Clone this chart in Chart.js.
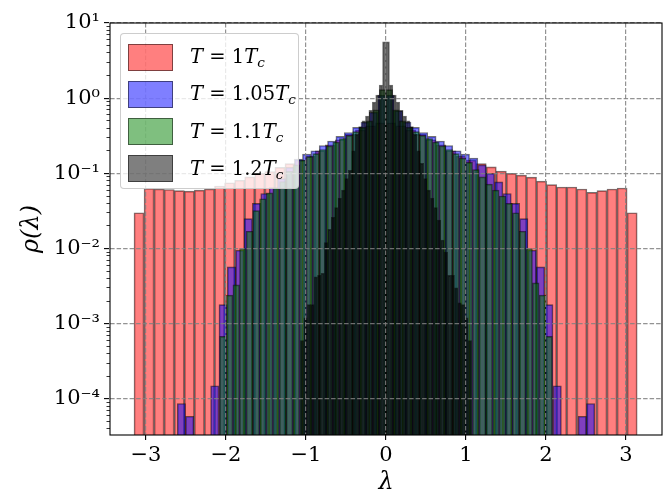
<!DOCTYPE html>
<html><head><meta charset="utf-8">
<script src="https://cdn.jsdelivr.net/npm/chart.js@4.4.1/dist/chart.umd.min.js"></script>
<style>
html,body{margin:0;padding:0;background:#fff;overflow:hidden;}
#wrap{position:relative;width:664px;height:499px;overflow:hidden;}
canvas{display:block;}
#maskL{position:absolute;left:0;top:0;width:4px;height:499px;background:#fff;}
#maskT{position:absolute;left:0;top:0;width:664px;height:4px;background:#fff;}
#legend{position:absolute;left:120px;top:33px;width:179px;height:156px;box-sizing:border-box;border:1px solid rgba(200,200,200,0.9);border-radius:4px;background:rgba(255,255,255,0.8);font-family:"DejaVu Serif";font-size:19.5px;color:#000;}
.patch{position:absolute;left:7px;width:45px;height:27px;box-sizing:border-box;border:1.4px solid rgba(0,0,0,0.5);}
.lbl{position:absolute;left:69px;white-space:nowrap;height:28px;line-height:28px;}
.lbl i{font-style:italic;}
.lbl sub{font-size:0.7em;vertical-align:-0.3em;line-height:0;}
</style></head>
<body>
<div id="wrap"><canvas id="c" width="664" height="499"></canvas><div id="maskL"></div><div id="maskT"></div><div id="legend"></div></div>
<script>
// ---- data (histogram densities, 50 bins each) ----
const seriesNames = ["T = 1Tc", "T = 1.05Tc", "T = 1.1Tc", "T = 1.2Tc"];
const xTicks = [-3, -2, -1, 0, 1, 2, 3];
const yMajorTicks = [1e-4, 1e-3, 1e-2, 1e-1, 1, 10];

const redRange = [-3.15, 3.14];
const redDensity = [
  0.030, 0.063, 0.062, 0.061, 0.059, 0.058, 0.060, 0.062, 0.068, 0.075,
  0.081, 0.090, 0.100, 0.106, 0.120, 0.135, 0.15, 0.17, 0.20, 0.24,
  0.28, 0.33, 0.38, 0.43, 0.47,
  0.47, 0.43, 0.38, 0.33, 0.28, 0.24, 0.20, 0.17, 0.15, 0.135,
  0.122, 0.107, 0.100, 0.095, 0.089, 0.079, 0.071, 0.066, 0.066, 0.062,
  0.056, 0.059, 0.062, 0.064, 0.030
];

const blueRange = [-2.61, 2.61];
const blueDensity = [
  8.7e-5, 5.9e-5, null, null, 1.5e-4, 0.0018, 0.0057, 0.0095, 0.025, 0.040,
  0.054, 0.065, 0.085, 0.12, 0.155, 0.18, 0.20, 0.235, 0.27, 0.31,
  0.35, 0.41, 0.48, 0.65, 1.1,
  1.1, 0.68, 0.48, 0.41, 0.35, 0.31, 0.27, 0.235, 0.20, 0.18,
  0.16, 0.13, 0.10, 0.077, 0.054, 0.040, 0.025, 0.0095, 0.0057, 0.0018,
  1.5e-4, null, null, 5.9e-5, 8.7e-5
];

const greenRange = [-2.08, 2.08];
const greenDensity = [
  6.8e-4, 0.0024, 0.0033, 0.010, 0.017, 0.032, 0.046, 0.055, 0.064, 0.078,
  0.107, 0.130, 0.150, 0.167, 0.183, 0.208, 0.232, 0.26, 0.29, 0.32,
  0.36, 0.41, 0.50, 0.70, 1.3,
  1.3, 0.70, 0.50, 0.41, 0.36, 0.32, 0.29, 0.26, 0.232, 0.208,
  0.183, 0.160, 0.140, 0.112, 0.090, 0.072, 0.060, 0.050, 0.040, 0.030,
  0.017, 0.010, 0.0035, 0.0024, 6.8e-4
];

const grayRange = [-1.07, 1.07];
const grayDensity = [
  6e-4, 0.0012, 0.0018, 0.0018, 0.0042, 0.0044, 0.0047, 0.012, 0.018, 0.026,
  0.035, 0.047, 0.060, 0.085, 0.11, 0.20, 0.33, 0.42, 0.50, 0.58,
  0.69, 0.89, 1.1, 1.5, 5.6,
  5.6, 1.5, 1.1, 0.89, 0.69, 0.58, 0.50, 0.42, 0.33, 0.20,
  0.136, 0.085, 0.060, 0.047, 0.035, 0.024, 0.013, 0.009, 0.0044, 0.0044,
  0.003, 0.0019, 0.0018, 0.0012, 6e-4
];

// ---- helpers ----
function binned(range, vals) {
  const w = (range[1] - range[0]) / vals.length;
  return vals.map((v, i) => ({ x: range[0] + (i + 0.5) * w, y: v }));
}
const SUP = {"0":"⁰","1":"¹","2":"²","3":"³","4":"⁴","5":"⁵","6":"⁶","7":"⁷","8":"⁸","9":"⁹","-":"⁻"};
function powLabel(v) {
  const e = Math.round(Math.log10(v));
  return "10" + String(e).split("").map(ch => SUP[ch]).join("");
}
function xLabel(v) { return v < 0 ? "\u2212" + Math.abs(v) : String(v); }

const X_MIN = -3.45, X_MAX = 3.45, Y_MIN = 3.32e-5, Y_MAX = 10;
const yMinorTicks = [];
for (let e = -5; e <= 0; e++) for (let k = 2; k <= 9; k++) {
  const v = k * Math.pow(10, e);
  if (v >= Y_MIN && v <= Y_MAX) yMinorTicks.push(v);
}

const FONT = "DejaVu Serif";
const GRID = "rgba(128,128,128,0.85)";
const NONE = "rgba(0,0,0,0)";
Chart.defaults.borderColor = NONE;
Chart.defaults.scale.grid.color = NONE;
Chart.defaults.scale.border.color = NONE;

const setX = s => { s.ticks = xTicks.map(v => ({ value: v })); };

function ds(label, data, axis, color, order) {
  return {
    label, data, xAxisID: axis, yAxisID: "y",
    backgroundColor: color, borderColor: "rgba(0,0,0,0.55)", borderWidth: 1,
    borderSkipped: "start", barPercentage: 1, categoryPercentage: 1, grouped: false, order
  };
}

function hiddenX() {
  return {
    type: "linear", display: false, offset: false, min: X_MIN, max: X_MAX, afterBuildTicks: setX,
    grid: { offset: false, display: false, color: NONE, tickColor: NONE }, border: { display: false, color: NONE }
  };
}

const framePlugin = {
  id: "frame",
  afterDraw(chart) {
    const { ctx, chartArea: a } = chart;
    ctx.save();
    ctx.strokeStyle = "#000"; ctx.lineWidth = 1.1;
    ctx.strokeRect(a.left, a.top, a.right - a.left, a.bottom - a.top);
    ctx.restore();
  }
};

new Chart(document.getElementById("c"), {
  type: "bar",
  data: {
    datasets: [
      ds(seriesNames[0], binned(redRange, redDensity), "xr", "rgba(255,0,0,0.5)", 4),
      ds(seriesNames[1], binned(blueRange, blueDensity), "xb", "rgba(0,0,255,0.5)", 3),
      ds(seriesNames[2], binned(greenRange, greenDensity), "xg", "rgba(0,128,0,0.5)", 2),
      ds(seriesNames[3], binned(grayRange, grayDensity), "xk", "rgba(0,0,0,0.5)", 1)
    ]
  },
  options: {
    responsive: false, animation: false,
    layout: { padding: { top: 23, right: 2, left: 0, bottom: 0 } },
    plugins: { legend: { display: false }, tooltip: { enabled: false } },
    scales: {
      xr: {
        type: "linear", position: "bottom", min: X_MIN, max: X_MAX, offset: false,
        afterBuildTicks: setX,
        afterFit: s => { s.height = 64; },
        ticks: { callback: v => xLabel(v), font: { family: FONT, size: 21 }, color: "#000", padding: 3, maxRotation: 0, autoSkip: false },
        grid: { z: 1, offset: false, color: GRID, lineWidth: 1.2, tickColor: "#000", tickLength: 5, tickWidth: 1.1 },
        border: { color: "#000", width: 1.1, dash: [4.5, 2] },
        title: { display: true, text: "λ", font: { family: FONT, size: 24, style: "italic" }, color: "#000", padding: { top: 0, bottom: 2 } }
      },
      xb: hiddenX(), xg: hiddenX(), xk: hiddenX(),
      y: {
        type: "logarithmic", position: "left", weight: 1, min: Y_MIN, max: Y_MAX,
        afterBuildTicks: s => { s.ticks = yMajorTicks.map(v => ({ value: v, major: true })); },
        afterFit: s => { s.width = 110; },
        ticks: { callback: v => powLabel(v), font: { family: FONT, size: 21 }, color: "#000", padding: 4, autoSkip: false },
        grid: { z: 1, color: GRID, lineWidth: 1.2, tickColor: "#000", tickLength: 6, tickWidth: 1.1 },
        border: { color: "#000", width: 1.1, dash: [4.5, 2] },
        title: { display: true, text: "ρ(λ)", font: { family: FONT, size: 24, style: "italic" }, color: "#000", padding: { top: 17, bottom: 0 } }
      },
      yMinor: {
        type: "logarithmic", position: "left", weight: 0, min: Y_MIN, max: Y_MAX,
        afterBuildTicks: s => { s.ticks = yMinorTicks.map(v => ({ value: v })); },
        afterFit: s => { s.width = 0; },
        ticks: { display: false },
        grid: { z: 1, drawOnChartArea: false, color: NONE, tickColor: "#000", tickLength: 3.5, tickWidth: 0.8 },
        border: { display: false, color: NONE }
      }
    }
  },
  plugins: [framePlugin]
});

// ---- legend (HTML, with subscripts) ----
const legendColors = ["rgba(255,0,0,0.5)", "rgba(0,0,255,0.5)", "rgba(0,128,0,0.5)", "rgba(0,0,0,0.5)"];
const legendNums = ["1", "1.05", "1.1", "1.2"];
const lg = document.getElementById("legend");
legendNums.forEach((n, i) => {
  const cy = 23 + i * 37.3;
  const p = document.createElement("div");
  p.className = "patch"; p.style.top = (cy - 13.5) + "px"; p.style.background = legendColors[i];
  lg.appendChild(p);
  const t = document.createElement("div");
  t.className = "lbl"; t.style.top = (cy - 14) + "px";
  t.innerHTML = "<i>T</i> = " + n + "<i>T</i><sub><i>c</i></sub>";
  lg.appendChild(t);
});
</script>
</body></html>
